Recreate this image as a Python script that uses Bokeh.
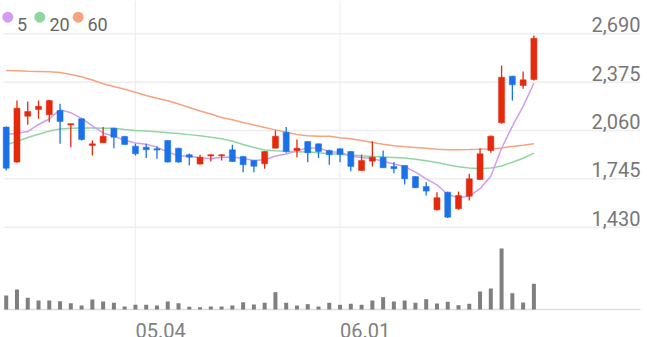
from bokeh.plotting import figure
from bokeh.models import Range1d, Label, ColumnDataSource
from bokeh.embed import file_html
from bokeh.resources import INLINE

# ---------------- data ----------------
dates = ["04.13", "04.14", "04.16", "04.17", "04.20", "04.21", "04.22", "04.23", "04.24", "04.27",
         "04.28", "04.29", "05.04", "05.06", "05.07", "05.08", "05.11", "05.12", "05.13", "05.14",
         "05.15", "05.18", "05.19", "05.20", "05.21", "05.22", "05.25", "05.26", "05.27", "05.28",
         "05.29", "06.01", "06.02", "06.03", "06.04", "06.05", "06.08", "06.09", "06.10", "06.11",
         "06.12", "06.15", "06.16", "06.17", "06.18", "06.19", "06.22", "06.23", "06.24", "06.25"]

opens = [2082, 1854, 2153, 2197, 2162, 2190, 2096, 2136, 1962, 1980,
         2075, 2021, 1958, 1951, 1941, 1995, 1945, 1902, 1841, 1894,
         1895, 1934, 1891, 1865, 1843, 1945, 2049, 1930, 1988, 1973,
         1930, 1941, 1923, 1799, 1860, 1886, 1826, 1832, 1760, 1695,
         1543, 1658, 1550, 1632, 1741, 1930, 2110, 2414, 2353, 2392]
highs = [2086, 2256, 2249, 2256, 2258, 2234, 2106, 2140, 1995, 2082,
         2078, 2025, 1973, 1973, 1956, 1997, 1947, 1910, 1902, 1904,
         1905, 1967, 1893, 1867, 1925, 2060, 2082, 2001, 1990, 1975,
         1935, 1943, 1925, 1904, 1990, 1930, 1854, 1834, 1762, 1723,
         1658, 1661, 1663, 1778, 1945, 2027, 2484, 2416, 2444, 2679]
lows = [1799, 1850, 2097, 2136, 2114, 1973, 1951, 1995, 1897, 1978,
        1945, 1965, 1897, 1880, 1876, 1852, 1850, 1832, 1839, 1858,
        1865, 1854, 1788, 1788, 1810, 1942, 1915, 1886, 1853, 1880,
        1837, 1853, 1795, 1797, 1826, 1815, 1782, 1708, 1685, 1637,
        1539, 1489, 1543, 1604, 1738, 1915, 2104, 2256, 2332, 2386]
closes = [1814, 2205, 2184, 2218, 2255, 2119, 2104, 2001, 1973, 2023,
          2016, 1969, 1908, 1934, 1932, 1854, 1854, 1886, 1886, 1902,
          1902, 1858, 1837, 1827, 1923, 2023, 1923, 1945, 1915, 1923,
          1902, 1904, 1826, 1865, 1886, 1817, 1811, 1745, 1687, 1665,
          1622, 1495, 1637, 1745, 1908, 2023, 2407, 2358, 2390, 2661]
volumes = [350000, 500000, 292000, 225000, 225000, 208000, 158000, 100000, 250000, 200000,
           168000, 75000, 118000, 118000, 100000, 200000, 158000, 68000, 58000, 75000,
           75000, 100000, 183000, 125000, 168000, 433000, 168000, 100000, 133000, 75000,
           168000, 118000, 143000, 118000, 225000, 308000, 200000, 225000, 168000, 258000,
           150000, 193000, 108000, 143000, 450000, 525000, 1525000, 408000, 175000, 643000]

ma5 = [2034, 2042, 2053, 2099, 2135, 2196, 2176, 2139, 2090, 2044,
       2023, 1996, 1978, 1970, 1952, 1919, 1896, 1892, 1882, 1876,
       1886, 1887, 1877, 1865, 1869, 1894, 1907, 1928, 1946, 1946,
       1922, 1918, 1894, 1884, 1877, 1860, 1841, 1825, 1789, 1745,
       1706, 1643, 1621, 1633, 1681, 1762, 1944, 2088, 2217, 2368]
ma20 = [1967, 1988, 2014, 2035, 2056, 2069, 2075, 2076, 2076, 2075,
        2075, 2067, 2060, 2056, 2051, 2046, 2041, 2033, 2025, 2016,
        2006, 1990, 1969, 1949, 1933, 1928, 1924, 1922, 1919, 1915,
        1909, 1904, 1900, 1895, 1891, 1887, 1884, 1880, 1872, 1863,
        1852, 1837, 1824, 1816, 1811, 1816, 1829, 1853, 1879, 1912]
ma60 = [2451, 2449, 2446, 2444, 2442, 2438, 2425, 2410, 2389, 2364,
        2347, 2329, 2309, 2288, 2270, 2254, 2233, 2210, 2187, 2167,
        2145, 2130, 2112, 2096, 2080, 2064, 2049, 2034, 2025, 2023,
        2022, 2012, 2006, 1995, 1982, 1970, 1961, 1954, 1949, 1944,
        1938, 1935, 1935, 1936, 1938, 1941, 1946, 1956, 1964, 1973]

ma_names = ["5", "20", "60"]
price_ticks = [1430, 1745, 2060, 2375, 2690]
price_tick_labels = ["1,430", "1,745", "2,060", "2,375", "2,690"]
date_tick_labels = ["05.04", "06.01"]

# ---------------- styles ----------------
W, H = 647, 337
UP, DOWN = "#e5290c", "#1a72e8"
MA_COLORS = ["#d39cf0", "#8fd6a2", "#f6a37e"]
GRID = "#eeeeee"
FONT = "Roboto"

xr = Range1d(-0.53, 59.55)
yr = Range1d(711, 2907)
vr = Range1d(-700000, 7725000)


def sx(px):
    return xr.start + px * (xr.end - xr.start) / W


def sy(px):
    return yr.end - px * (yr.end - yr.start) / H


p = figure(width=W, height=H, x_range=xr, y_range=yr, output_backend="svg",
           toolbar_location=None, x_axis_location=None, y_axis_location=None,
           min_border=0, outline_line_color=None, background_fill_color="white")
p.extra_y_ranges = {"vol": vr}
p.xgrid.visible = False
p.ygrid.visible = False

n = len(dates)
idx = list(range(n))

# grid lines
p.segment(x0=[sx(3)] * len(price_ticks), x1=[sx(640)] * len(price_ticks),
          y0=price_ticks, y1=price_ticks, line_color=GRID, line_width=1.5)
date_idx = [dates.index(d) for d in date_tick_labels]
p.segment(x0=date_idx, x1=date_idx, y0=[sy(0)] * len(date_idx), y1=[sy(309)] * len(date_idx),
          line_color=GRID, line_width=1.2)
# volume baseline
p.segment(x0=[sx(3)], x1=[sx(640)], y0=[0], y1=[0], y_range_name="vol",
          line_color="#dddddd", line_width=1.5)

# volume bars
p.vbar(x=idx, top=volumes, bottom=0, width=0.37, y_range_name="vol",
       fill_color="#7f7f7f", line_color=None)

# moving averages
for vals, col in zip([ma60, ma20, ma5], MA_COLORS[::-1]):
    p.line(idx, vals, line_color=col, line_width=1.5)

# candles
colors = [UP if c >= o else DOWN for o, c in zip(opens, closes)]
src = ColumnDataSource(dict(
    x=idx, o=opens, h=highs, l=lows, c=closes,
    top=[max(o, c) for o, c in zip(opens, closes)],
    bot=[min(o, c) for o, c in zip(opens, closes)],
    color=colors))
p.segment(x0="x", x1="x", y0="h", y1="l", line_color="color", line_width=1.3, source=src)
p.vbar(x="x", top="top", bottom="bot", width=0.56, fill_color="color", line_color="color",
       line_width=0.5, source=src)

# price labels (right side, above their grid lines)
for t, lab in zip(price_ticks, price_tick_labels):
    p.add_layout(Label(x=640, x_units="screen", y=t, y_units="data", y_offset=9,
                       text=lab, text_align="right", text_baseline="alphabetic",
                       text_font=FONT, text_font_size="20px", text_color="#777777"))

# date labels
for d, lab in zip(date_idx, date_tick_labels):
    p.add_layout(Label(x=d, x_units="data", y=H - 330, y_units="screen",
                       text=lab, text_align="left", text_baseline="alphabetic",
                       text_font=FONT, text_font_size="20px", text_color="#808080"))

# legend
dot_px = [7.3, 39.3, 77.7]
text_px = [16.5, 49, 87]
p.scatter(x=[sx(v) for v in dot_px], y=[sy(16.7)] * 3, size=11, marker="circle",
          fill_color=MA_COLORS, line_color=None)
for tx, name in zip(text_px, ma_names):
    p.add_layout(Label(x=tx, x_units="screen", y=H - 23.5, y_units="screen",
                       text=name, text_align="left", text_baseline="alphabetic",
                       text_font=FONT, text_font_size="18px", text_color="#666666"))

open("out.html", "w").write(file_html(p, INLINE))
